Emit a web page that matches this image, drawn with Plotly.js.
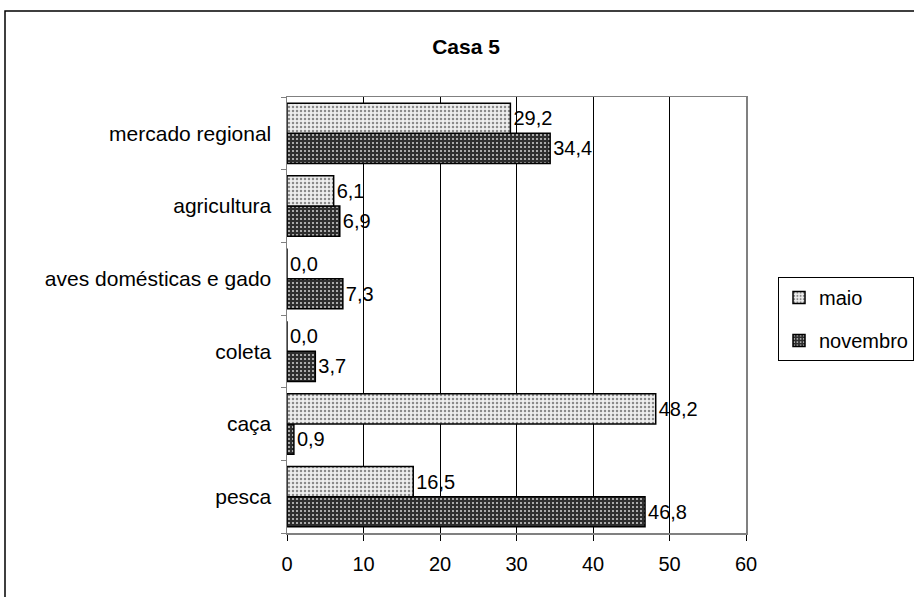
<!DOCTYPE html>
<html>
<head>
<meta charset="utf-8">
<script src="https://cdn.plot.ly/plotly-3.0.1.min.js"></script>
<style>html,body{margin:0;padding:0;background:#fff;}#chart{width:914px;height:597px;}</style>
</head>
<body>
<div id="chart"></div>
<script>
// Categories listed bottom to top
var categories = ["pesca", "caça", "coleta", "aves domésticas e gado", "agricultura", "mercado regional"];
var maio = [16.5, 48.2, 0.0, 0.0, 6.1, 29.2];
var novembro = [46.8, 0.9, 3.7, 7.3, 6.9, 34.4];
var xTicks = [0, 10, 20, 30, 40, 50, 60];

function fmt(v) { return v.toFixed(1).replace('.', ','); }

var FONT = '"Liberation Sans", Arial, sans-serif';

var traceNov = {
  type: 'bar', orientation: 'h', name: 'novembro',
  y: categories, x: novembro,
  text: novembro.map(fmt), textposition: 'outside', cliponaxis: false,
  textfont: {family: FONT, size: 20, color: '#000'},
  legendgroup: 'b', legendrank: 2,
  marker: {
    color: '#2e2e2e',
    line: {color: '#000', width: 1.5},
    pattern: {shape: '.', bgcolor: '#2e2e2e', fgcolor: '#c8c8c8', size: 4, solidity: 0.22}
  },
  hoverinfo: 'skip'
};
var traceMaio = {
  type: 'bar', orientation: 'h', name: 'maio',
  y: categories, x: maio,
  text: maio.map(fmt), textposition: 'outside', cliponaxis: false,
  textfont: {family: FONT, size: 20, color: '#000'},
  legendgroup: 'a', legendrank: 1,
  marker: {
    color: '#eeeeee',
    line: {color: '#000', width: 1.5},
    pattern: {shape: '.', bgcolor: '#eeeeee', fgcolor: '#8a8a8a', size: 4, solidity: 0.3}
  },
  hoverinfo: 'skip'
};

var L = 287, R = 746, T = 97, B = 533, W = 914, H = 597;
var pw = R - L, ph = B - T;
function px(x) { return (x - L) / pw; }
function py(y) { return (B - y) / ph; }

var layout = {
  width: W, height: H,
  margin: {l: L, r: W - R, t: T, b: H - B, pad: 0, autoexpand: false},
  paper_bgcolor: '#fff', plot_bgcolor: '#fff',
  font: {family: FONT, size: 21, color: '#000'},
  title: {text: '<b>Casa 5</b>', font: {family: FONT, size: 21, color: '#000'},
          x: 466 / W, xref: 'container', xanchor: 'center', y: 1 - 47 / H, yref: 'container', yanchor: 'middle'},
  barmode: 'group', bargap: 0.17, bargroupgap: 0,
  xaxis: {
    range: [0, 60], tickvals: xTicks, ticktext: xTicks.map(String),
    showgrid: true, gridcolor: '#000', gridwidth: 1,
    showline: true, linecolor: '#808080', linewidth: 1.5, mirror: true,
    ticks: 'outside', ticklen: 6, tickcolor: '#000', tickwidth: 1,
    zeroline: false, fixedrange: true, ticklabelstandoff: 6,
    tickfont: {family: FONT, size: 20, color: '#000'}
  },
  yaxis: {
    type: 'category', categoryorder: 'array', categoryarray: categories,
    showline: true, linecolor: '#808080', linewidth: 1.5, mirror: true,
    ticks: 'outside', tickson: 'boundaries', ticklen: 5, tickcolor: '#808080',
    showgrid: false, fixedrange: true, ticklabelstandoff: 10,
    tickfont: {family: FONT, size: 21, color: '#000'}
  },
  showlegend: true,
  legend: {
    x: px(778), xanchor: 'left', y: py(277), yanchor: 'top',
    bordercolor: '#000', borderwidth: 1, bgcolor: '#fff',
    traceorder: 'grouped', tracegroupgap: 14,
    font: {family: FONT, size: 20, color: '#000'},
    itemwidth: 30
  },
  shapes: [
    {type: 'rect', xref: 'paper', yref: 'paper', x0: px(5), x1: px(W + 200), y0: py(H + 200), y1: py(11),
     line: {color: '#000', width: 1.5}, fillcolor: 'rgba(0,0,0,0)', layer: 'below'}
  ]
};

Plotly.newPlot('chart', [traceNov, traceMaio], layout, {displayModeBar: false, staticPlot: true});
</script>
</body>
</html>
